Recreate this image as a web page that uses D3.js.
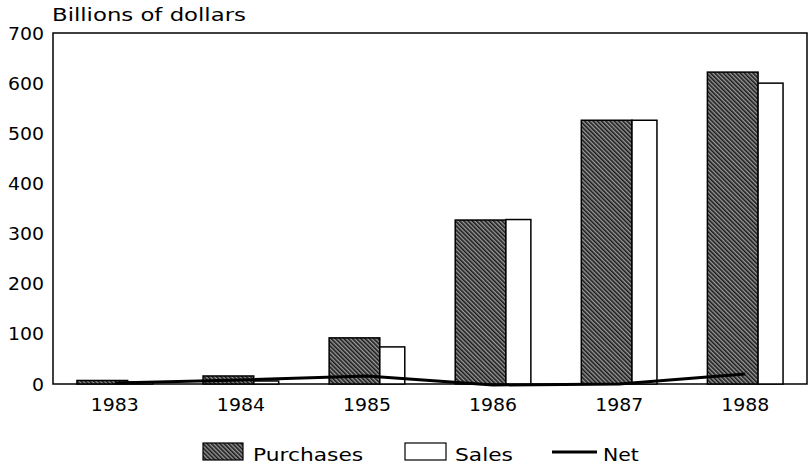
<!DOCTYPE html>
<html><head><meta charset="utf-8">
<script src="https://cdnjs.cloudflare.com/ajax/libs/d3/7.8.5/d3.min.js"></script>
<style>body{margin:0;background:#fff}svg{display:block}text{font-family:"DejaVu Sans",sans-serif;fill:#000;font-size:17px}</style>
</head><body>
<script>
const years = ["1983","1984","1985","1986","1987","1988"];
const purchases = [7, 16, 92, 327, 526, 622];
const sales = [4, 6, 74, 328, 526, 600];
const net = [2, 8, 16, -2, 0, 20];
const yTicks = [0,100,200,300,400,500,600,700];
const yTitle = "Billions of dollars";
const legendLabels = ["Purchases","Sales","Net"];

const W=809,H=466, L=53, R=807, T=33, B=384;
const svg=d3.select("body").append("svg").attr("width",W).attr("height",H);
const defs=svg.append("defs");
const pat=defs.append("pattern").attr("id","hatch").attr("patternUnits","userSpaceOnUse")
 .attr("width",3).attr("height",3).attr("patternTransform","rotate(-45)");
pat.append("rect").attr("width",3).attr("height",3).attr("fill","#9a9a9a");
pat.append("rect").attr("width",1.6).attr("height",3).attr("fill","#1a1a1a");

function stretch(sel,k){
  sel.each(function(){
    const n=this; const w=n.getComputedTextLength();
    d3.select(n).attr("textLength",w*k).attr("lengthAdjust","spacingAndGlyphs");
  });
}

const x=d3.scaleBand().domain(years).range([L,R]).paddingInner(0.4).paddingOuter(0.19);
const y=d3.scaleLinear().domain([0,700]).range([B,T]);
const bw=x.bandwidth(), pw=bw*0.67, sw=bw-pw;

// frame
svg.append("rect").attr("x",L).attr("y",T).attr("width",R-L).attr("height",B-T)
 .attr("fill","none").attr("stroke","#000").attr("stroke-width",1.5);

// y axis labels
const ya=svg.append("g").attr("transform",`translate(${L},0)`)
 .call(d3.axisLeft(y).tickValues(yTicks).tickSize(0).tickPadding(9).tickFormat(d3.format("d")));
ya.select(".domain").remove();
ya.selectAll("text").attr("font-size",null).attr("font-family",null).attr("dy","0.36em");
stretch(ya.selectAll("text"),1.11);

const tt=svg.append("text").attr("x",52).attr("y",21).text(yTitle);
stretch(tt,1.34);

// bars
const g=svg.append("g");
g.selectAll(".p").data(years).join("rect").attr("x",d=>x(d)).attr("y",(d,i)=>y(purchases[i]))
 .attr("width",pw).attr("height",(d,i)=>y(0)-y(purchases[i]))
 .attr("fill","url(#hatch)").attr("stroke","#000").attr("stroke-width",1.5);
g.selectAll(".s").data(years).join("rect").attr("x",d=>x(d)+pw).attr("y",(d,i)=>y(sales[i]))
 .attr("width",sw).attr("height",(d,i)=>y(0)-y(sales[i]))
 .attr("fill","#fff").attr("stroke","#000").attr("stroke-width",1.5);

// net line
const line=d3.line().x((d,i)=>x(years[i])+bw/2).y(d=>y(d));
svg.append("path").datum(net).attr("d",line).attr("fill","none").attr("stroke","#000").attr("stroke-width",3);

// x labels
const xa=svg.append("g").attr("transform",`translate(0,${B})`)
 .call(d3.axisBottom(x).tickSize(0).tickPadding(14));
xa.select(".domain").remove();
xa.selectAll("text").attr("font-size",null).attr("font-family",null).attr("dy",null).attr("y",27);
stretch(xa.selectAll("text"),1.11);

// legend
const lg=svg.append("g");
lg.append("rect").attr("x",203).attr("y",443).attr("width",40).attr("height",17).attr("fill","url(#hatch)").attr("stroke","#000").attr("stroke-width",1.2);
stretch(lg.append("text").attr("x",253).attr("y",461).text(legendLabels[0]),1.28);
lg.append("rect").attr("x",405).attr("y",443).attr("width",41).attr("height",17).attr("fill","#fff").attr("stroke","#000").attr("stroke-width",1.2);
stretch(lg.append("text").attr("x",455).attr("y",461).text(legendLabels[1]),1.28);
lg.append("line").attr("x1",552).attr("x2",597).attr("y1",452).attr("y2",452).attr("stroke","#000").attr("stroke-width",3);
stretch(lg.append("text").attr("x",603).attr("y",461).text(legendLabels[2]),1.2);
</script>
</body></html>
